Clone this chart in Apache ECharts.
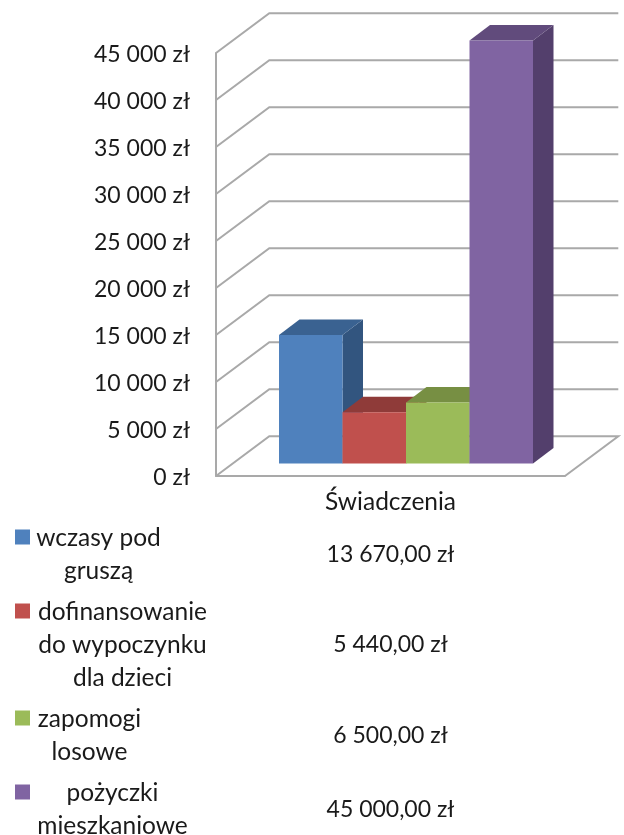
<!DOCTYPE html>
<html>
<head>
<meta charset="utf-8">
<style>
  html, body { margin: 0; padding: 0; background: #fff; }
  #chart { width: 624px; height: 835px; }
</style>
<script src="https://cdn.jsdelivr.net/npm/echarts@6/dist/echarts.min.js"></script>
</head>
<body>
<div id="chart"></div>
<script>
const categories = ["Świadczenia"];
const seriesNames = [
  "wczasy pod\ngruszą",
  "dofinansowanie\ndo wypoczynku\ndla dzieci",
  "zapomogi\nlosowe",
  "pożyczki\nmieszkaniowe",
];
const seriesValues = [13670, 5440, 6500, 45000];
const tickValues = [0, 5000, 10000, 15000, 20000, 25000, 30000, 35000, 40000, 45000];

// front, top and side face of each bar
const frontColors = ["#4f81bd", "#c0504d", "#9bbb59", "#8064a2"];
const topColors = ["#3a6291", "#8f3b39", "#778f43", "#614b7c"];
const sideColors = ["#32557f", "#7d3331", "#677d3a", "#533f6c"];

const FONT = "Lato, sans-serif";
const TEXT_COLOR = "#1a1a1a";
const WALL_COLOR = "#a9a9a9";

// 3D look: how far the back wall sits from the axis plane
const WALL_DX = 53.3;
const WALL_DY = 39.8;
// bars stand a little behind the front edge of the floor
const BAR_LEFT = 279;
const BAR_WIDTH = 63.5;
const BAR_LIFT = 12.5;
const BAR_DX = 20.5;
const BAR_DY = 15.5;

// table under the chart
const LEGEND_TOP = 537;
const LINE_HEIGHT = 33;
const ROW_GAP = 8;
const legendCenters = [98.5, 122.5, 89.5, 112.5];
const VALUE_X = 390.5;

function formatThousands(v) {
  return String(v).replace(/\B(?=(\d{3})+$)/g, " ");
}

function renderWall(params, api) {
  const cs = params.coordSys;
  const y = api.coord([0, api.value(0)])[1];
  const x0 = cs.x;
  const x1 = cs.x + cs.width;
  const style = { stroke: WALL_COLOR, lineWidth: 2, fill: null };
  const points = [[x0, y], [x0 + WALL_DX, y - WALL_DY], [x1 + WALL_DX, y - WALL_DY]];
  // floor also closes on the right hand side
  if (api.value(0) === 0) points.push([x1, y]);
  return { type: "polyline", shape: { points }, style };
}

function renderBar(params, api) {
  const i = params.seriesIndex - 1;
  const base = api.coord([0, 0])[1] - BAR_LIFT;
  const top = api.coord([0, api.value(1)])[1] - BAR_LIFT;
  const l = BAR_LEFT + i * BAR_WIDTH;
  const r = l + BAR_WIDTH;
  return {
    type: "group",
    children: [
      {
        type: "polygon",
        shape: { points: [[r, base], [r + BAR_DX, base - BAR_DY], [r + BAR_DX, top - BAR_DY], [r, top]] },
        style: { fill: sideColors[i] },
      },
      {
        type: "polygon",
        shape: { points: [[l, top], [l + BAR_DX, top - BAR_DY], [r + BAR_DX, top - BAR_DY], [r, top]] },
        style: { fill: topColors[i] },
      },
      {
        type: "rect",
        shape: { x: l, y: top, width: BAR_WIDTH, height: base - top },
        style: { fill: frontColors[i] },
      },
    ],
  };
}

function buildTable() {
  const items = [];
  let y = LEGEND_TOP;
  seriesNames.forEach((name, i) => {
    const lines = name.split("\n").length;
    items.push({
      type: "rect",
      shape: { x: 15, y: y - 7.5, width: 15, height: 15 },
      style: { fill: frontColors[i] },
    });
    items.push({
      type: "text",
      x: legendCenters[i],
      y: y - LINE_HEIGHT / 2 + 1,
      style: {
        text: name,
        font: "24.5px " + FONT,
        lineHeight: LINE_HEIGHT,
        fill: TEXT_COLOR,
        align: "center",
        verticalAlign: "top",
      },
    });
    items.push({
      type: "text",
      x: VALUE_X,
      y: y + ((lines - 1) * LINE_HEIGHT) / 2 + 1,
      style: {
        text: formatThousands(seriesValues[i]) + ",00 zł",
        font: "23px " + FONT,
        fill: TEXT_COLOR,
        align: "center",
        verticalAlign: "middle",
      },
    });
    y += lines * LINE_HEIGHT + ROW_GAP;
  });
  return items;
}

const chart = echarts.init(document.getElementById("chart"), null, { renderer: "canvas" });

chart.setOption({
  animation: false,
  backgroundColor: "#fff",
  grid: { left: 216, top: 53, width: 349, height: 423 },
  xAxis: {
    type: "category",
    data: categories,
    axisLine: { lineStyle: { color: WALL_COLOR, width: 2 } },
    axisTick: { show: false },
    axisLabel: { color: TEXT_COLOR, fontFamily: FONT, fontSize: 24.5, margin: 14 },
  },
  yAxis: {
    type: "value",
    min: 0,
    max: 45000,
    interval: 5000,
    splitLine: { show: false },
    axisLine: { show: true, lineStyle: { color: WALL_COLOR, width: 2 } },
    axisTick: { show: false },
    axisLabel: {
      color: TEXT_COLOR,
      fontFamily: FONT,
      fontSize: 23,
      margin: 26,
      // rich padding nudges the labels down a little from the tick
      rich: { t: { fontFamily: FONT, fontSize: 23, color: TEXT_COLOR, padding: [4, 0, 0, 0] } },
      formatter: (v) => "{t|" + formatThousands(v) + " zł}",
    },
  },
  series: [
    {
      type: "custom",
      name: "siatka",
      renderItem: renderWall,
      data: tickValues.map((v) => [v]),
      encode: { y: 0 },
      silent: true,
      z: 1,
    },
  ].concat(
    seriesNames.map((name, i) => ({
      type: "custom",
      name: name.replace(/\n/g, " "),
      renderItem: renderBar,
      data: [[0, seriesValues[i]]],
      encode: { x: 0, y: 1 },
      z: 2 + i,
    }))
  ),
  graphic: buildTable(),
});
</script>
</body>
</html>
